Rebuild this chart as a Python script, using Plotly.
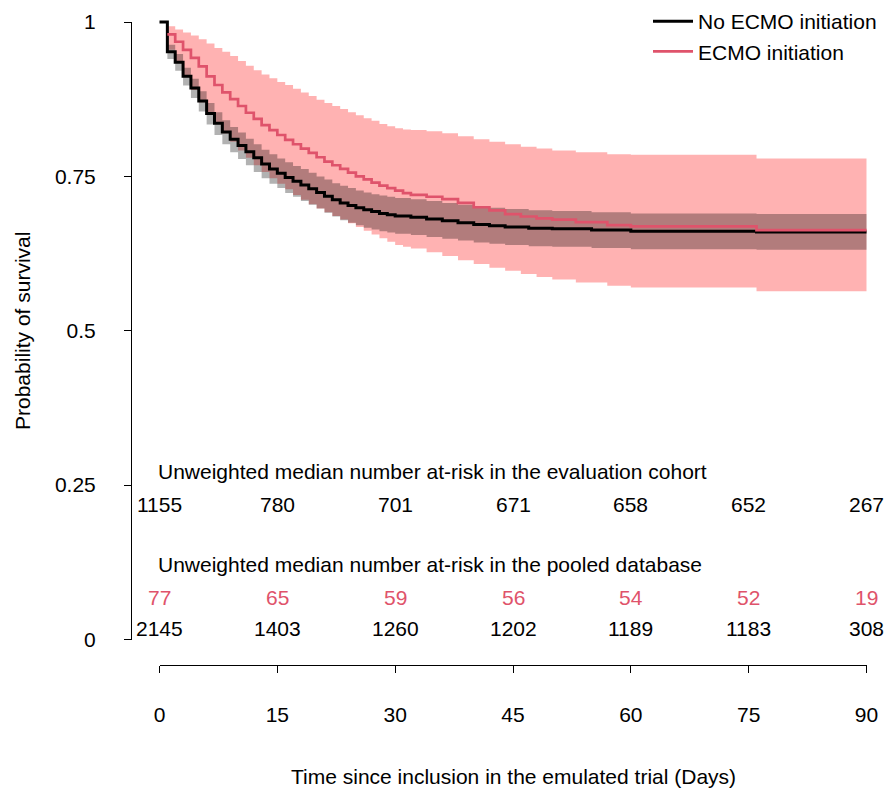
import plotly.graph_objects as go

# ---------------- data ----------------
days_ticks = [0, 15, 30, 45, 60, 75, 90]
y_ticks = [0, 0.25, 0.5, 0.75, 1]
y_ticklabels = ["0", "0.25", "0.5", "0.75", "1"]

t_no = [0, 1, 2, 3, 4, 5, 6, 7, 8, 9, 10, 11, 12, 13, 14, 15, 16, 17, 18, 19, 20,
        21, 22, 23, 24, 25, 26, 27, 28, 29, 30, 32, 34, 36, 38, 40, 42, 44, 47, 50,
        55, 60, 76, 90]
s_no = [1.0, 0.952, 0.935, 0.912, 0.893, 0.872, 0.852, 0.836, 0.822, 0.810, 0.800,
        0.790, 0.780, 0.770, 0.762, 0.755, 0.748, 0.742, 0.736, 0.730, 0.724,
        0.718, 0.712, 0.707, 0.703, 0.699, 0.696, 0.693, 0.690, 0.688, 0.686,
        0.684, 0.681, 0.678, 0.675, 0.672, 0.670, 0.668, 0.666, 0.665,
        0.663, 0.661, 0.660, 0.660]
t_no_band = [1, 2, 3, 4, 5, 6, 7, 8, 9, 10, 11, 12, 13, 14, 15, 16, 17, 18, 19, 20,
             21, 22, 23, 24, 25, 26, 27, 28, 29, 30, 32, 34, 36, 38, 40, 42, 44, 47, 50,
             55, 60, 76, 90]
up_no = [0.963, 0.948, 0.926, 0.908, 0.888, 0.869, 0.854, 0.841, 0.830, 0.821,
         0.811, 0.802, 0.793, 0.786, 0.779, 0.773, 0.767, 0.762, 0.756, 0.750,
         0.745, 0.739, 0.735, 0.731, 0.727, 0.724, 0.721, 0.719, 0.717, 0.715,
         0.713, 0.710, 0.707, 0.704, 0.701, 0.699, 0.697, 0.695, 0.694,
         0.692, 0.690, 0.689, 0.689]
lo_no = [0.940, 0.921, 0.897, 0.877, 0.855, 0.834, 0.817, 0.802, 0.789, 0.778,
         0.768, 0.757, 0.747, 0.738, 0.731, 0.723, 0.717, 0.710, 0.704, 0.698,
         0.691, 0.685, 0.679, 0.675, 0.671, 0.667, 0.664, 0.661, 0.659, 0.657,
         0.655, 0.652, 0.649, 0.646, 0.643, 0.641, 0.639, 0.637, 0.636,
         0.634, 0.632, 0.631, 0.631]

t_ecmo = [1, 2, 3, 4, 5, 6, 7, 8, 9, 10, 11, 12, 13, 14, 15, 16, 17, 18, 19, 20,
          21, 22, 23, 24, 25, 26, 27, 28, 29, 30, 31, 32, 34, 36, 38, 40, 42, 44, 46,
          48, 50, 53, 57, 60, 76, 90]
s_ecmo = [0.980, 0.968, 0.955, 0.942, 0.928, 0.912, 0.898, 0.886, 0.875, 0.864,
          0.853, 0.843, 0.833, 0.825, 0.817, 0.809, 0.802, 0.795, 0.788, 0.781,
          0.774, 0.768, 0.762, 0.756, 0.750, 0.745, 0.740, 0.735, 0.731, 0.727,
          0.723, 0.720, 0.717, 0.713, 0.707, 0.700, 0.695, 0.689, 0.685,
          0.682, 0.680, 0.676, 0.671, 0.669, 0.663, 0.663]
up_ecmo = [0.993, 0.988, 0.983, 0.978, 0.972, 0.965, 0.958, 0.952, 0.945, 0.937,
           0.929, 0.922, 0.915, 0.909, 0.903, 0.898, 0.892, 0.886, 0.880, 0.874,
           0.869, 0.864, 0.859, 0.854, 0.849, 0.844, 0.840, 0.835, 0.831, 0.828,
           0.826, 0.825, 0.823, 0.820, 0.815, 0.810, 0.806, 0.802, 0.798,
           0.795, 0.792, 0.789, 0.786, 0.785, 0.779, 0.779]
lo_ecmo = [0.955, 0.935, 0.912, 0.890, 0.870, 0.852, 0.835, 0.820, 0.806, 0.792,
           0.780, 0.768, 0.757, 0.747, 0.738, 0.729, 0.720, 0.712, 0.705, 0.698,
           0.692, 0.686, 0.680, 0.674, 0.668, 0.662, 0.656, 0.650, 0.644, 0.639,
           0.636, 0.633, 0.627, 0.621, 0.614, 0.608, 0.602, 0.597, 0.592,
           0.587, 0.583, 0.578, 0.573, 0.570, 0.564, 0.564]

risk_eval = [1155, 780, 701, 671, 658, 652, 267]
risk_pool_ecmo = [77, 65, 59, 56, 54, 52, 19]
risk_pool_no = [2145, 1403, 1260, 1202, 1189, 1183, 308]

heading_eval = "Unweighted median number at-risk in the evaluation cohort"
heading_pool = "Unweighted median number at-risk in the pooled database"
name_no = "No ECMO initiation"
name_ecmo = "ECMO initiation"
x_title = "Time since inclusion in the emulated trial (Days)"
y_title = "Probability of survival"

# ---------------- layout geometry (pixels) ----------------
W, H = 886, 789
X0PX, X90PX = 159.5, 866.5
Y0PX, Y1PX = 639.5, 22.0
ppd = (X90PX - X0PX) / 90.0
pps = (Y0PX - Y1PX) / 1.0

def px_x(p):
    return p / W

def px_y(p):
    return (H - p) / H

dom_x = [130, 886]
dom_y = [15, 648]
xr = [(dom_x[0] - X0PX) / ppd, (dom_x[1] - X0PX) / ppd]
yr = [(Y0PX - dom_y[1]) / pps, (Y0PX - dom_y[0]) / pps]

RED = "#DF536B"
FONT = "Liberation Sans, Arial, sans-serif"
FS = 21

fig = go.Figure()
fig.add_trace(go.Scatter(x=t_ecmo, y=up_ecmo, mode="lines", line=dict(width=0, shape="hv"),
                         showlegend=False, hoverinfo="skip"))
fig.add_trace(go.Scatter(x=t_ecmo, y=lo_ecmo, mode="lines", line=dict(width=0, shape="hv"),
                         fill="tonexty", fillcolor="rgba(255,0,0,0.3)",
                         showlegend=False, hoverinfo="skip"))
fig.add_trace(go.Scatter(x=t_no_band, y=up_no, mode="lines", line=dict(width=0, shape="hv"),
                         showlegend=False, hoverinfo="skip"))
fig.add_trace(go.Scatter(x=t_no_band, y=lo_no, mode="lines", line=dict(width=0, shape="hv"),
                         fill="tonexty", fillcolor="rgba(0,0,0,0.3)",
                         showlegend=False, hoverinfo="skip"))
fig.add_trace(go.Scatter(x=t_no, y=s_no, mode="lines", name=name_no,
                         line=dict(color="black", width=3, shape="hv")))
fig.add_trace(go.Scatter(x=t_ecmo, y=s_ecmo, mode="lines", name=name_ecmo,
                         line=dict(color=RED, width=2.7, shape="hv")))
fig.add_trace(go.Scatter(x=[None], y=[None], xaxis="x2", yaxis="y2",
                         showlegend=False, hoverinfo="skip"))

ann = []
for d, v in zip(days_ticks, risk_eval):
    ann.append(dict(x=d, y=px_y(504), xref="x", yref="paper", text=str(v),
                    showarrow=False, xanchor="center", yanchor="middle",
                    font=dict(size=FS, color="black", family=FONT)))
for d, v in zip(days_ticks, risk_pool_ecmo):
    ann.append(dict(x=d, y=px_y(597), xref="x", yref="paper", text=str(v),
                    showarrow=False, xanchor="center", yanchor="middle",
                    font=dict(size=FS, color=RED, family=FONT)))
for d, v in zip(days_ticks, risk_pool_no):
    ann.append(dict(x=d, y=px_y(628), xref="x", yref="paper", text=str(v),
                    showarrow=False, xanchor="center", yanchor="middle",
                    font=dict(size=FS, color="black", family=FONT)))
ann.append(dict(x=px_x(156), y=px_y(471), xref="paper", yref="paper", text=heading_eval,
                showarrow=False, xanchor="left", yanchor="middle",
                font=dict(size=FS, color="black", family=FONT)))
ann.append(dict(x=px_x(156), y=px_y(564), xref="paper", yref="paper", text=heading_pool,
                showarrow=False, xanchor="left", yanchor="middle",
                font=dict(size=FS, color="black", family=FONT)))
ann.append(dict(x=px_x(513), y=px_y(776), xref="paper", yref="paper", text=x_title,
                showarrow=False, xanchor="center", yanchor="middle",
                font=dict(size=FS, color="black", family=FONT)))
ann.append(dict(x=px_x(23), y=px_y(331), xref="paper", yref="paper", text=y_title,
                textangle=-90, showarrow=False, xanchor="center", yanchor="middle",
                font=dict(size=FS, color="black", family=FONT)))

axis_common = dict(showgrid=False, zeroline=False, showline=True, linecolor="black",
                   linewidth=1, ticks="outside", ticklen=7, tickwidth=1, tickcolor="black",
                   tickfont=dict(size=FS, color="black", family=FONT), fixedrange=True)

fig.update_layout(
    width=W, height=H,
    margin=dict(l=0, r=0, t=0, b=0, pad=0, autoexpand=False),
    paper_bgcolor="white", plot_bgcolor="rgba(0,0,0,0)",
    font=dict(family=FONT, size=FS, color="black"),
    xaxis=dict(domain=[px_x(dom_x[0]), px_x(dom_x[1])], range=xr, visible=False, fixedrange=True),
    yaxis=dict(domain=[px_y(dom_y[1]), px_y(dom_y[0])], range=yr, visible=False, fixedrange=True),
    xaxis2=dict(domain=[px_x(X0PX), px_x(X90PX)], range=[0, 90], anchor="free",
                position=px_y(665), tickvals=days_ticks, ticktext=[str(d) for d in days_ticks],
                ticklabelstandoff=24, **axis_common),
    yaxis2=dict(domain=[px_y(Y0PX), px_y(Y1PX)], range=[0, 1], anchor="free",
                position=px_x(131), side="left", tickvals=y_ticks, ticktext=y_ticklabels,
                ticklabelstandoff=24, **axis_common),
    legend=dict(x=px_x(648), y=px_y(1), xanchor="left", yanchor="top",
                bgcolor="rgba(0,0,0,0)", borderwidth=0, traceorder="normal",
                font=dict(size=FS, color="black", family=FONT),
                itemwidth=40, tracegroupgap=0),
    annotations=ann,
    showlegend=True,
)

fig.write_html("out.html", config={"responsive": False})
